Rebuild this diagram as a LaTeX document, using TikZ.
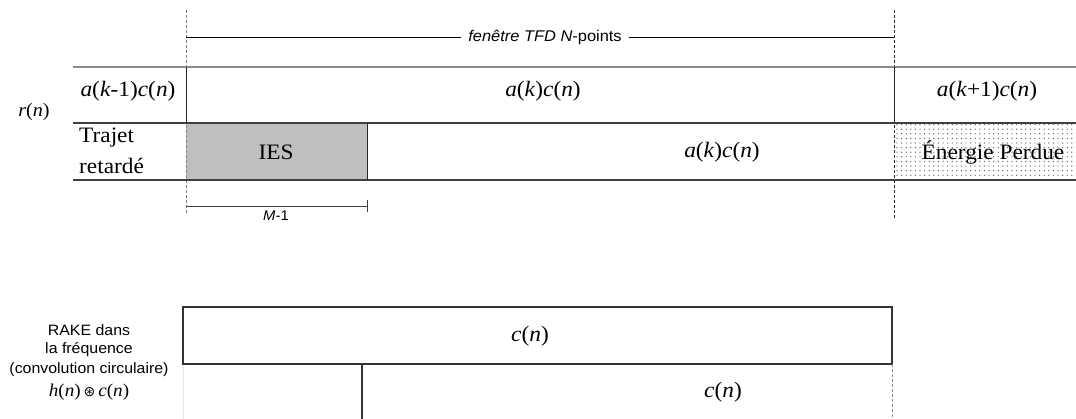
\documentclass[tikz,border=0pt]{standalone}
\usepackage{fontspec}
\setmainfont{Liberation Serif}[FakeStretch=1.06]
\newfontfamily\arialf{Liberation Sans}[FakeStretch=1.06]
\newfontfamily\djv{DejaVu Sans}
\usetikzlibrary{patterns.meta}
\newcommand\vi[1]{\textit{#1}}
\tikzset{
  serif/.style={font=\fontsize{22}{26}\selectfont, inner sep=0pt},
  sans/.style={font=\arialf\fontsize{15}{19}\selectfont, inner sep=0pt},
  topline/.style={draw=gray!90, line width=1.6pt},
  rowline/.style={draw=black!75, line width=1.1pt},
  sepline/.style={draw=black!85, line width=0.9pt},
  gdash/.style={draw=gray, line width=1pt, dash pattern=on 3pt off 2pt},
  kdash/.style={draw=black!85, line width=0.8pt, dash pattern=on 3pt off 2pt},
  iesfill/.style={fill=black!25},
  boxline/.style={draw=black!80, line width=1.1pt},
  thinline/.style={draw=black, line width=0.8pt},
}
\begin{document}
\begin{tikzpicture}[x=1pt,y=-1pt]
\useasboundingbox (0,0) rectangle (1076,419);
% fills
\fill[iesfill] (186,123) rectangle (367,180);
\fill[pattern={Dots[distance=4.6pt, radius=0.7pt]}, pattern color=black!60] (894,124) rectangle (1076,179);
% dashed verticals
\draw[gdash] (186,10) -- (186,215);
\draw[kdash] (894,10) -- (894,219);
% rows
\draw[topline] (73,67) -- (1076,67);
\draw[rowline] (73,123) -- (1076,123);
\draw[rowline] (73,180) -- (1076,180);
\draw[sepline] (186,67) -- (186,123);
\draw[sepline] (894,67) -- (894,123);
\draw[sepline] (367,123) -- (367,180);
% window label
\coordinate (wl) at (186,37);
\coordinate (wr) at (894,37);
\node[sans, font=\arialf\fontsize{15.5}{19}\selectfont, inner xsep=7pt] (fen) at (545,37) {\textit{fenêtre TFD N}-points};
\draw[thinline] (wl) -- (fen.west);
\draw[thinline] (fen.east) -- (wr);
% row texts
\node[serif, font=\fontsize{19}{23}\selectfont] (rn) at (34,112) {\vi{r}(\vi{n})};
\node[serif] (akm) at (128,91) {\vi{a}(\vi{k}-1)\vi{c}(\vi{n})};
\node[serif] (ak1) at (543,91) {\vi{a}(\vi{k})\vi{c}(\vi{n})};
\node[serif] (akp) at (987,91) {\vi{a}(\vi{k}+1)\vi{c}(\vi{n})};
\node[serif, anchor=west] (traj) at (79,138) {Trajet};
\node[serif, anchor=west] (ret) at (79,166) {retardé};
\node[serif] (ies) at (276,152) {IES};
\node[serif] (ak2) at (722,152) {\vi{a}(\vi{k})\vi{c}(\vi{n})};
\node[serif] (ep) at (993,152) {Énergie Perdue};
% M-1
\coordinate (ma) at (186,206);
\coordinate (mb) at (367,206);
\draw[draw=black!75, line width=0.9pt] (ma) -- (mb);
\draw[draw=black!75, line width=0.9pt] (367,200) -- (367,212);
\node[sans, font=\arialf\fontsize{14}{16}\selectfont] (m1) at (276,216) {\textit{M}-1};
% bottom
\draw[draw=gray!20, line width=0.6pt] (183,364) -- (183,419);
\draw[boxline] (183,307) rectangle (892,364);
\draw[boxline] (362,364) -- (362,419);
\draw[gdash, draw=gray!90] (892,364) -- (892,419);
\node[serif] (c1) at (530,336) {\vi{c}(\vi{n})};
\node[serif] (c2) at (723,392) {\vi{c}(\vi{n})};
\node[sans] (t1) at (89,330) {RAKE dans};
\node[sans] (t2) at (89,350) {la fréquence};
\node[sans] (t3) at (89,370) {(convolution circulaire)};
\node[serif, font=\fontsize{18}{22}\selectfont] (t4) at (89,392) {\vi{h}(\vi{n})\,{\djv\fontsize{14}{16}\selectfont ⊛}\,\vi{c}(\vi{n})};
\end{tikzpicture}
\end{document}
